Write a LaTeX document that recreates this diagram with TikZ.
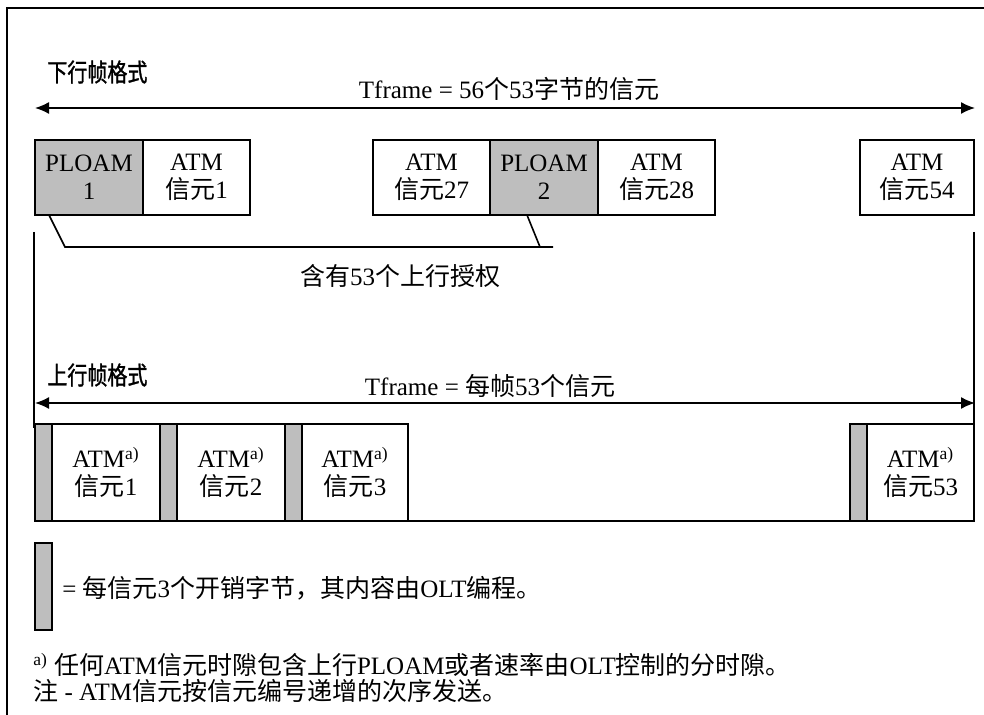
\documentclass[tikz,border=0pt]{standalone}
\usepackage{fontspec}
\setmainfont{Liberation Serif}
\newfontfamily\cjk{Noto Sans CJK SC}
\newfontfamily\cjkn[FakeStretch=0.8,FakeBold=1.2]{Noto Sans CJK SC}
\newcommand\zh[1]{{\cjk #1}}
\newcommand\zhn[1]{{\cjkn #1}}
\usetikzlibrary{arrows.meta,calc}
\definecolor{boxgray}{RGB}{190,190,190}
\tikzset{
  lin/.style={line width=0.8pt},
  framel/.style={line width=0.6pt},
  dimarrow/.style={line width=0.8pt,{Latex[length=7pt,width=6pt]}-{Latex[length=7pt,width=6pt]}},
  cell/.style={draw, line width=0.8pt, inner sep=0pt, outer sep=0pt, anchor=north west, align=center, minimum height=37.5pt},
  ucell/.style={cell, minimum height=48.5pt},
  gcell/.style={fill=boxgray},
  lbl/.style={inner sep=0pt}
}
\begin{document}
\begin{tikzpicture}[x=0.5pt,y=-0.5pt,font=\fontsize{12.5}{14}\selectfont]
\useasboundingbox (0,0) rectangle (984,715);
% frame
\coordinate (fTR) at (984,8);
\coordinate (fTL) at (7,8);
\coordinate (fBL) at (7,715);
\draw[framel] (fTR) -- (fTL) -- (fBL);

% downstream
\node[lbl,anchor=west] (dtitle) at (47,72) {\zhn{下行帧格式}};
\node[lbl] (dlabel) at (509,89) {Tframe = 56\zh{个}53\zh{字节的信元}};
\coordinate (dL) at (35,108);
\coordinate (dR) at (975,108);
\draw[dimarrow] (dL) -- (dR);

\node[cell,gcell,minimum width=54pt] (p1) at (35,140) {PLOAM\\1};
\node[cell,minimum width=53.5pt] (c1) at (143,140) {ATM\\\zh{信元}1};
\node[cell,minimum width=58.5pt] (c27) at (373,140) {ATM\\\zh{信元}27};
\node[cell,gcell,minimum width=54pt] (p2) at (490,140) {PLOAM\\2};
\node[cell,minimum width=58.5pt] (c28) at (598,140) {ATM\\\zh{信元}28};
\node[cell,minimum width=57pt] (c54) at (860,140) {ATM\\\zh{信元}54};

% bracket
\coordinate (b1) at ($(p1.south west)+(14,0)$);
\coordinate (b2) at ($(p1.south west)+(30,32)$);
\coordinate (b3) at ($(p2.south west)+(63,32)$);
\coordinate (b4) at ($(p2.south west)+(37,0)$);
\coordinate (b5) at ($(p2.south west)+(50,32)$);
\draw[lin] (b1) -- (b2) -- (b3);
\draw[lin] (b4) -- (b5);
\node[lbl] (grant) at (400,276) {\zh{含有}53\zh{个上行授权}};

% vertical markers
\coordinate (vL1) at (34,232);
\coordinate (vL2) at (34,428);
\coordinate (vR1) at (974,232);
\coordinate (vR2) at (974,428);
\draw[lin] (vL1) -- (vL2);
\draw[lin] (vR1) -- (vR2);

% upstream
\node[lbl,anchor=west] (utitle) at (47,375) {\zhn{上行帧格式}};
\node[lbl] (ulabel) at (490,386) {Tframe = \zh{每帧}53\zh{个信元}};
\coordinate (uL) at (35,403);
\coordinate (uR) at (975,403);
\draw[dimarrow] (uL) -- (uR);

\node[ucell,gcell,minimum width=8.5pt] (s1) at (35,424) {};
\node[ucell,minimum width=54pt] (a1) at (52,424) {ATM\textsuperscript{a)}\\\zh{信元}1};
\node[ucell,gcell,minimum width=8.5pt] (s2) at (160,424) {};
\node[ucell,minimum width=54pt] (a2) at (177,424) {ATM\textsuperscript{a)}\\\zh{信元}2};
\node[ucell,gcell,minimum width=8.5pt] (s3) at (285,424) {};
\node[ucell,minimum width=53pt] (a3) at (302,424) {ATM\textsuperscript{a)}\\\zh{信元}3};
\node[ucell,gcell,minimum width=8.5pt] (s4) at (850,424) {};
\node[ucell,minimum width=53.5pt] (a4) at (867,424) {ATM\textsuperscript{a)}\\\zh{信元}53};
\draw[lin] (a3.south east) -- (s4.south west);

% legend
\node[cell,gcell,minimum width=8.5pt,minimum height=43.5pt] (lg) at (35,543) {};
\node[lbl,anchor=west] (lgtext) at (62,588) {= \zh{每信元}3\zh{个开销字节，其内容由}OLT\zh{编程。}};

% footnotes
\node[lbl,anchor=west] (fn1) at (33,665) {\textsuperscript{a)}\ \zh{任何}ATM\zh{信元时隙包含上行}PLOAM\zh{或者速率由}OLT\zh{控制的分时隙。}};
\node[lbl,anchor=west] (fn2) at (33,691) {\zh{注} - ATM\zh{信元按信元编号递增的次序发送。}};
\end{tikzpicture}
\end{document}
